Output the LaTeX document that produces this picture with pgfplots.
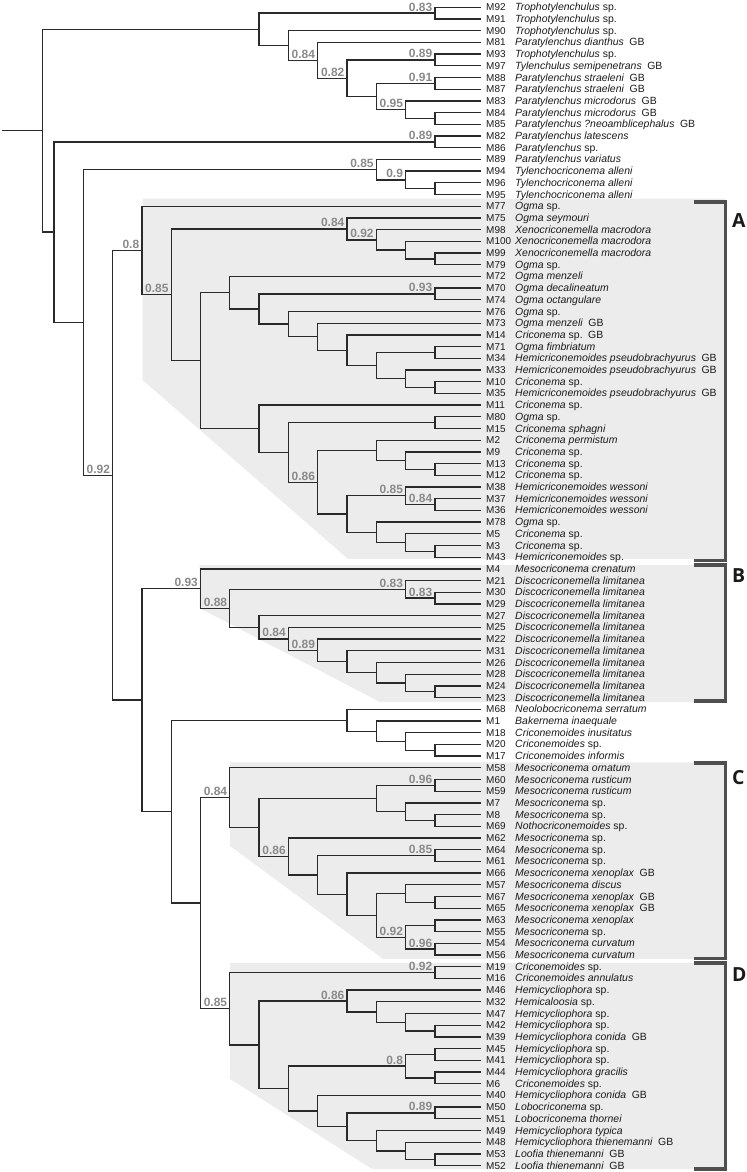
\documentclass[border=0pt]{standalone}
\usepackage{fontspec}
\setmainfont{Liberation Sans}
\newfontfamily\letfont{Open Sans}
\usepackage{pgfplots}
\pgfplotsset{compat=1.18}
\definecolor{treec}{HTML}{2A2A2A}
\definecolor{bsgray}{HTML}{8A8A8A}
\definecolor{shadec}{HTML}{ECECEC}
\definecolor{brkc}{HTML}{4F4F4F}
\definecolor{labc}{HTML}{1A1A1A}
\pgfplotsset{
  tree/.style={draw=treec,line width=1.35bp,mark=none,line join=miter},
  shd/.style={fill=shadec,draw=none,mark=none},
  brk/.style={draw=brkc,line width=3.5bp,mark=none,line join=miter},
}
\tikzset{
  lab/.style={anchor=base west,inner sep=0pt,yshift=-3.6bp,font=\fontsize{10.5}{12}\selectfont,text=labc},
  mlab/.style={anchor=base west,inner sep=0pt,yshift=-3.6bp,font=\fontsize{10}{12}\selectfont,text=labc},
  bsl/.style={anchor=base east,inner sep=0pt,xshift=-2.5bp,yshift=2bp,font=\fontsize{12}{12}\selectfont\bfseries,text=bsgray},
  let/.style={anchor=north west,inner sep=0pt,font=\fontsize{19.5}{20}\selectfont\letfont\bfseries,text=labc},
}
\newcommand{\gb}{\hspace{5.5bp}GB}
\newcommand{\lf}[4]{\node[mlab] at (axis cs:486,#1) {#2};\node[lab] at (axis cs:515,#1) {\textit{#3}#4};}
\newcommand{\bs}[3]{\node[bsl] at (axis cs:#1,#2) {#3};}
\begin{document}
\begin{tikzpicture}
\begin{axis}[width=746bp,height=1172bp,scale only axis,xmin=0,xmax=746,ymin=-0.624,ymax=99.55,y dir=reverse,hide axis,clip=false]
\addplot[draw=none,mark=none] coordinates {(0,-0.624)(746,99.55)};
% clade shading
\addplot[shd] coordinates {(142.5,16.35)(142.5,31.85)(348,47.15)(725,47.15)(725,16.35)};
\addplot[shd] coordinates {(199.5,47.67)(199.5,51.35)(380,59.38)(725,59.38)(725,47.67)};
\addplot[shd] coordinates {(230,64.53)(230,71.68)(383,81.34)(725,81.34)(725,64.53)};
\addplot[shd] coordinates {(230,81.68)(230,91.59)(372,99.29)(725,99.29)(725,81.68)};
% tree: top clade
\addplot[tree] coordinates {(2,10.5512)(42.3,10.5512)};
\addplot[tree] coordinates {(259.1,1.8828)(42.3,1.8828)(42.3,19.2196)(54,19.2196)};
\addplot[tree] coordinates {(434.9,0.5)(259.1,0.5)(259.1,3.2656)(288.4,3.2656)};
\addplot[tree] coordinates {(481,0)(434.9,0)(434.9,1)(481,1)};
\addplot[tree] coordinates {(481,2)(288.4,2)(288.4,4.5313)(317.7,4.5313)};
\addplot[tree] coordinates {(481,3)(317.7,3)(317.7,6.0625)(347,6.0625)};
\addplot[tree] coordinates {(434.9,4.5)(347,4.5)(347,7.625)(376.3,7.625)};
\addplot[tree] coordinates {(481,4)(434.9,4)(434.9,5)(481,5)};
\addplot[tree] coordinates {(434.9,6.5)(376.3,6.5)(376.3,8.75)(405.6,8.75)};
\addplot[tree] coordinates {(481,6)(434.9,6)(434.9,7)(481,7)};
\addplot[tree] coordinates {(481,8)(405.6,8)(405.6,9.5)(434.9,9.5)};
\addplot[tree] coordinates {(481,9)(434.9,9)(434.9,10)(481,10)};
\addplot[tree] coordinates {(434.9,11.5)(54,11.5)(54,26.9391)(83.3,26.9391)};
\addplot[tree] coordinates {(481,11)(434.9,11)(434.9,12)(481,12)};
\addplot[tree] coordinates {(376.3,13.875)(83.3,13.875)(83.3,40.0032)(112.6,40.0032)};
\addplot[tree] coordinates {(481,13)(376.3,13)(376.3,14.75)(405.6,14.75)};
\addplot[tree] coordinates {(481,14)(405.6,14)(405.6,15.5)(434.9,15.5)};
\addplot[tree] coordinates {(481,15)(434.9,15)(434.9,16)(481,16)};
\addplot[tree] coordinates {(141.9,20.7866)(112.6,20.7866)(112.6,59.2197)(141.9,59.2197)};
% clade A
\addplot[tree] coordinates {(481,17)(141.9,17)(141.9,24.5733)(171.2,24.5733)};
\addplot[tree] coordinates {(347,18.9375)(171.2,18.9375)(171.2,30.209)(200.5,30.209)};
\addplot[tree] coordinates {(481,18)(347,18)(347,19.875)(376.3,19.875)};
\addplot[tree] coordinates {(481,19)(376.3,19)(376.3,20.75)(405.6,20.75)};
\addplot[tree] coordinates {(481,20)(405.6,20)(405.6,21.5)(434.9,21.5)};
\addplot[tree] coordinates {(481,21)(434.9,21)(434.9,22)(481,22)};
\addplot[tree] coordinates {(229.8,24.3945)(200.5,24.3945)(200.5,36.0234)(259.1,36.0234)};
\addplot[tree] coordinates {(481,23)(229.8,23)(229.8,25.7891)(259.1,25.7891)};
\addplot[tree] coordinates {(434.9,24.5)(259.1,24.5)(259.1,27.0781)(288.4,27.0781)};
\addplot[tree] coordinates {(481,24)(434.9,24)(434.9,25)(481,25)};
\addplot[tree] coordinates {(481,26)(288.4,26)(288.4,28.1563)(317.7,28.1563)};
\addplot[tree] coordinates {(481,27)(317.7,27)(317.7,29.3125)(347,29.3125)};
\addplot[tree] coordinates {(481,28)(347,28)(347,30.625)(376.3,30.625)};
\addplot[tree] coordinates {(434.9,29.5)(376.3,29.5)(376.3,31.75)(405.6,31.75)};
\addplot[tree] coordinates {(481,29)(434.9,29)(434.9,30)(481,30)};
\addplot[tree] coordinates {(481,31)(405.6,31)(405.6,32.5)(434.9,32.5)};
\addplot[tree] coordinates {(481,32)(434.9,32)(434.9,33)(481,33)};
\addplot[tree] coordinates {(481,34)(259.1,34)(259.1,38.0469)(288.4,38.0469)};
\addplot[tree] coordinates {(434.9,35.5)(288.4,35.5)(288.4,40.5938)(317.7,40.5938)};
\addplot[tree] coordinates {(481,35)(434.9,35)(434.9,36)(481,36)};
\addplot[tree] coordinates {(376.3,37.875)(317.7,37.875)(317.7,43.3125)(347,43.3125)};
\addplot[tree] coordinates {(481,37)(376.3,37)(376.3,38.75)(405.6,38.75)};
\addplot[tree] coordinates {(481,38)(405.6,38)(405.6,39.5)(434.9,39.5)};
\addplot[tree] coordinates {(481,39)(434.9,39)(434.9,40)(481,40)};
\addplot[tree] coordinates {(405.6,41.75)(347,41.75)(347,44.875)(376.3,44.875)};
\addplot[tree] coordinates {(481,41)(405.6,41)(405.6,42.5)(434.9,42.5)};
\addplot[tree] coordinates {(481,42)(434.9,42)(434.9,43)(481,43)};
\addplot[tree] coordinates {(481,44)(376.3,44)(376.3,45.75)(405.6,45.75)};
\addplot[tree] coordinates {(481,45)(405.6,45)(405.6,46.5)(434.9,46.5)};
\addplot[tree] coordinates {(481,46)(434.9,46)(434.9,47)(481,47)};
% clade B
\addplot[tree] coordinates {(200.5,49.6855)(141.9,49.6855)(141.9,68.7539)(171.2,68.7539)};
\addplot[tree] coordinates {(481,48)(200.5,48)(200.5,51.371)(229.8,51.371)};
\addplot[tree] coordinates {(405.6,49.75)(229.8,49.75)(229.8,52.9922)(259.1,52.9922)};
\addplot[tree] coordinates {(481,49)(405.6,49)(405.6,50.5)(434.9,50.5)};
\addplot[tree] coordinates {(481,50)(434.9,50)(434.9,51)(481,51)};
\addplot[tree] coordinates {(481,52)(259.1,52)(259.1,53.9844)(288.4,53.9844)};
\addplot[tree] coordinates {(481,53)(288.4,53)(288.4,54.9688)(317.7,54.9688)};
\addplot[tree] coordinates {(481,54)(317.7,54)(317.7,55.9375)(347,55.9375)};
\addplot[tree] coordinates {(481,55)(347,55)(347,56.875)(376.3,56.875)};
\addplot[tree] coordinates {(481,56)(376.3,56)(376.3,57.75)(405.6,57.75)};
\addplot[tree] coordinates {(481,57)(405.6,57)(405.6,58.5)(434.9,58.5)};
\addplot[tree] coordinates {(481,58)(434.9,58)(434.9,59)(481,59)};
% middle
\addplot[tree] coordinates {(347,60.9375)(171.2,60.9375)(171.2,76.5703)(200.5,76.5703)};
\addplot[tree] coordinates {(481,60)(347,60)(347,61.875)(376.3,61.875)};
\addplot[tree] coordinates {(481,61)(376.3,61)(376.3,62.75)(405.6,62.75)};
\addplot[tree] coordinates {(481,62)(405.6,62)(405.6,63.5)(434.9,63.5)};
\addplot[tree] coordinates {(481,63)(434.9,63)(434.9,64)(481,64)};
\addplot[tree] coordinates {(229.8,67.5508)(200.5,67.5508)(200.5,85.5898)(229.8,85.5898)};
% clade C
\addplot[tree] coordinates {(481,65)(229.8,65)(229.8,70.1016)(259.1,70.1016)};
\addplot[tree] coordinates {(376.3,67.625)(259.1,67.625)(259.1,72.5781)(288.4,72.5781)};
\addplot[tree] coordinates {(434.9,66.5)(376.3,66.5)(376.3,68.75)(405.6,68.75)};
\addplot[tree] coordinates {(481,66)(434.9,66)(434.9,67)(481,67)};
\addplot[tree] coordinates {(481,68)(405.6,68)(405.6,69.5)(434.9,69.5)};
\addplot[tree] coordinates {(481,69)(434.9,69)(434.9,70)(481,70)};
\addplot[tree] coordinates {(481,71)(288.4,71)(288.4,74.1563)(317.7,74.1563)};
\addplot[tree] coordinates {(434.9,72.5)(317.7,72.5)(317.7,75.8125)(347,75.8125)};
\addplot[tree] coordinates {(481,72)(434.9,72)(434.9,73)(481,73)};
\addplot[tree] coordinates {(481,74)(347,74)(347,77.625)(376.3,77.625)};
\addplot[tree] coordinates {(405.6,75.75)(376.3,75.75)(376.3,79.5)(405.6,79.5)};
\addplot[tree] coordinates {(481,75)(405.6,75)(405.6,76.5)(434.9,76.5)};
\addplot[tree] coordinates {(481,76)(434.9,76)(434.9,77)(481,77)};
\addplot[tree] coordinates {(434.9,78.5)(405.6,78.5)(405.6,80.5)(434.9,80.5)};
\addplot[tree] coordinates {(481,78)(434.9,78)(434.9,79)(481,79)};
\addplot[tree] coordinates {(481,80)(434.9,80)(434.9,81)(481,81)};
% clade D
\addplot[tree] coordinates {(434.9,82.5)(229.8,82.5)(229.8,88.6797)(259.1,88.6797)};
\addplot[tree] coordinates {(481,82)(434.9,82)(434.9,83)(481,83)};
\addplot[tree] coordinates {(347,84.9375)(259.1,84.9375)(259.1,92.4219)(288.4,92.4219)};
\addplot[tree] coordinates {(481,84)(347,84)(347,85.875)(376.3,85.875)};
\addplot[tree] coordinates {(481,85)(376.3,85)(376.3,86.75)(405.6,86.75)};
\addplot[tree] coordinates {(481,86)(405.6,86)(405.6,87.5)(434.9,87.5)};
\addplot[tree] coordinates {(481,87)(434.9,87)(434.9,88)(481,88)};
\addplot[tree] coordinates {(405.6,90.5)(288.4,90.5)(288.4,94.3438)(317.7,94.3438)};
\addplot[tree] coordinates {(434.9,89.5)(405.6,89.5)(405.6,91.5)(434.9,91.5)};
\addplot[tree] coordinates {(481,89)(434.9,89)(434.9,90)(481,90)};
\addplot[tree] coordinates {(481,91)(434.9,91)(434.9,92)(481,92)};
\addplot[tree] coordinates {(481,93)(317.7,93)(317.7,95.6875)(347,95.6875)};
\addplot[tree] coordinates {(434.9,94.5)(347,94.5)(347,96.875)(376.3,96.875)};
\addplot[tree] coordinates {(481,94)(434.9,94)(434.9,95)(481,95)};
\addplot[tree] coordinates {(481,96)(376.3,96)(376.3,97.75)(405.6,97.75)};
\addplot[tree] coordinates {(481,97)(405.6,97)(405.6,98.5)(434.9,98.5)};
\addplot[tree] coordinates {(481,98)(434.9,98)(434.9,99)(481,99)};
% brackets
\addplot[brk] coordinates {(694,16.65)(725.5,16.65)(725.5,47.3)(694,47.3)};
\addplot[brk] coordinates {(694,47.65)(725.5,47.65)(725.5,59.3)(694,59.3)};
\addplot[brk] coordinates {(694,64.6)(725.5,64.6)(725.5,81.3)(694,81.3)};
\addplot[brk] coordinates {(694,81.7)(725.5,81.7)(725.5,99.3)(694,99.3)};
\node[let] at (axis cs:732,17.6) {A};
\node[let] at (axis cs:732,47.95) {B};
\node[let] at (axis cs:732,65.2) {C};
\node[let] at (axis cs:732,82.1) {D};
% bootstrap values
\bs{434.9}{0.5}{0.83}
\bs{317.7}{4.5313}{0.84}
\bs{347}{6.0625}{0.82}
\bs{434.9}{4.5}{0.89}
\bs{434.9}{6.5}{0.91}
\bs{405.6}{8.75}{0.95}
\bs{434.9}{11.5}{0.89}
\bs{376.3}{13.875}{0.85}
\bs{405.6}{14.75}{0.9}
\bs{112.6}{40.0032}{0.92}
\bs{141.9}{20.7866}{0.8}
\bs{171.2}{24.5733}{0.85}
\bs{347}{18.9375}{0.84}
\bs{376.3}{19.875}{0.92}
\bs{434.9}{24.5}{0.93}
\bs{317.7}{40.5938}{0.86}
\bs{405.6}{41.75}{0.85}
\bs{434.9}{42.5}{0.84}
\bs{200.5}{49.6855}{0.93}
\bs{229.8}{51.371}{0.88}
\bs{405.6}{49.75}{0.83}
\bs{434.9}{50.5}{0.83}
\bs{288.4}{53.9844}{0.84}
\bs{317.7}{54.9688}{0.89}
\bs{229.8}{67.5508}{0.84}
\bs{434.9}{66.5}{0.96}
\bs{288.4}{72.5781}{0.86}
\bs{434.9}{72.5}{0.85}
\bs{405.6}{79.5}{0.92}
\bs{434.9}{80.5}{0.96}
\bs{229.8}{85.5898}{0.85}
\bs{434.9}{82.5}{0.92}
\bs{347}{84.9375}{0.86}
\bs{405.6}{90.5}{0.8}
\bs{434.9}{94.5}{0.89}
% leaf labels
\lf{0}{M92}{Trophotylenchulus}{~sp.}
\lf{1}{M91}{Trophotylenchulus}{~sp.}
\lf{2}{M90}{Trophotylenchulus}{~sp.}
\lf{3}{M81}{Paratylenchus dianthus}{\gb}
\lf{4}{M93}{Trophotylenchulus}{~sp.}
\lf{5}{M97}{Tylenchulus semipenetrans}{\gb}
\lf{6}{M88}{Paratylenchus straeleni}{\gb}
\lf{7}{M87}{Paratylenchus straeleni}{\gb}
\lf{8}{M83}{Paratylenchus microdorus}{\gb}
\lf{9}{M84}{Paratylenchus microdorus}{\gb}
\lf{10}{M85}{Paratylenchus ?neoamblicephalus}{\gb}
\lf{11}{M82}{Paratylenchus latescens}{}
\lf{12}{M86}{Paratylenchus}{~sp.}
\lf{13}{M89}{Paratylenchus variatus}{}
\lf{14}{M94}{Tylenchocriconema alleni}{}
\lf{15}{M96}{Tylenchocriconema alleni}{}
\lf{16}{M95}{Tylenchocriconema alleni}{}
\lf{17}{M77}{Ogma}{~sp.}
\lf{18}{M75}{Ogma seymouri}{}
\lf{19}{M98}{Xenocriconemella macrodora}{}
\lf{20}{M100}{Xenocriconemella macrodora}{}
\lf{21}{M99}{Xenocriconemella macrodora}{}
\lf{22}{M79}{Ogma}{~sp.}
\lf{23}{M72}{Ogma menzeli}{}
\lf{24}{M70}{Ogma decalineatum}{}
\lf{25}{M74}{Ogma octangulare}{}
\lf{26}{M76}{Ogma}{~sp.}
\lf{27}{M73}{Ogma menzeli}{\gb}
\lf{28}{M14}{Criconema}{~sp.\gb}
\lf{29}{M71}{Ogma fimbriatum}{}
\lf{30}{M34}{Hemicriconemoides pseudobrachyurus}{\gb}
\lf{31}{M33}{Hemicriconemoides pseudobrachyurus}{\gb}
\lf{32}{M10}{Criconema}{~sp.}
\lf{33}{M35}{Hemicriconemoides pseudobrachyurus}{\gb}
\lf{34}{M11}{Criconema}{~sp.}
\lf{35}{M80}{Ogma}{~sp.}
\lf{36}{M15}{Criconema sphagni}{}
\lf{37}{M2}{Criconema permistum}{}
\lf{38}{M9}{Criconema}{~sp.}
\lf{39}{M13}{Criconema}{~sp.}
\lf{40}{M12}{Criconema}{~sp.}
\lf{41}{M38}{Hemicriconemoides wessoni}{}
\lf{42}{M37}{Hemicriconemoides wessoni}{}
\lf{43}{M36}{Hemicriconemoides wessoni}{}
\lf{44}{M78}{Ogma}{~sp.}
\lf{45}{M5}{Criconema}{~sp.}
\lf{46}{M3}{Criconema}{~sp.}
\lf{47}{M43}{Hemicriconemoides}{~sp.}
\lf{48}{M4}{Mesocriconema crenatum}{}
\lf{49}{M21}{Discocriconemella limitanea}{}
\lf{50}{M30}{Discocriconemella limitanea}{}
\lf{51}{M29}{Discocriconemella limitanea}{}
\lf{52}{M27}{Discocriconemella limitanea}{}
\lf{53}{M25}{Discocriconemella limitanea}{}
\lf{54}{M22}{Discocriconemella limitanea}{}
\lf{55}{M31}{Discocriconemella limitanea}{}
\lf{56}{M26}{Discocriconemella limitanea}{}
\lf{57}{M28}{Discocriconemella limitanea}{}
\lf{58}{M24}{Discocriconemella limitanea}{}
\lf{59}{M23}{Discocriconemella limitanea}{}
\lf{60}{M68}{Neolobocriconema serratum}{}
\lf{61}{M1}{Bakernema inaequale}{}
\lf{62}{M18}{Criconemoides inusitatus}{}
\lf{63}{M20}{Criconemoides}{~sp.}
\lf{64}{M17}{Criconemoides informis}{}
\lf{65}{M58}{Mesocriconema ornatum}{}
\lf{66}{M60}{Mesocriconema rusticum}{}
\lf{67}{M59}{Mesocriconema rusticum}{}
\lf{68}{M7}{Mesocriconema}{~sp.}
\lf{69}{M8}{Mesocriconema}{~sp.}
\lf{70}{M69}{Nothocriconemoides}{~sp.}
\lf{71}{M62}{Mesocriconema}{~sp.}
\lf{72}{M64}{Mesocriconema}{~sp.}
\lf{73}{M61}{Mesocriconema}{~sp.}
\lf{74}{M66}{Mesocriconema xenoplax}{\gb}
\lf{75}{M57}{Mesocriconema discus}{}
\lf{76}{M67}{Mesocriconema xenoplax}{\gb}
\lf{77}{M65}{Mesocriconema xenoplax}{\gb}
\lf{78}{M63}{Mesocriconema xenoplax}{}
\lf{79}{M55}{Mesocriconema}{~sp.}
\lf{80}{M54}{Mesocriconema curvatum}{}
\lf{81}{M56}{Mesocriconema curvatum}{}
\lf{82}{M19}{Criconemoides}{~sp.}
\lf{83}{M16}{Criconemoides annulatus}{}
\lf{84}{M46}{Hemicycliophora}{~sp.}
\lf{85}{M32}{Hemicaloosia}{~sp.}
\lf{86}{M47}{Hemicycliophora}{~sp.}
\lf{87}{M42}{Hemicycliophora}{~sp.}
\lf{88}{M39}{Hemicycliophora conida}{\gb}
\lf{89}{M45}{Hemicycliophora}{~sp.}
\lf{90}{M41}{Hemicycliophora}{~sp.}
\lf{91}{M44}{Hemicycliophora gracilis}{}
\lf{92}{M6}{Criconemoides}{~sp.}
\lf{93}{M40}{Hemicycliophora conida}{\gb}
\lf{94}{M50}{Lobocriconema}{~sp.}
\lf{95}{M51}{Lobocriconema thornei}{}
\lf{96}{M49}{Hemicycliophora typica}{}
\lf{97}{M48}{Hemicycliophora thienemanni}{\gb}
\lf{98}{M53}{Loofia thienemanni}{\gb}
\lf{99}{M52}{Loofia thienemanni}{\gb}
\end{axis}
\end{tikzpicture}
\end{document}
